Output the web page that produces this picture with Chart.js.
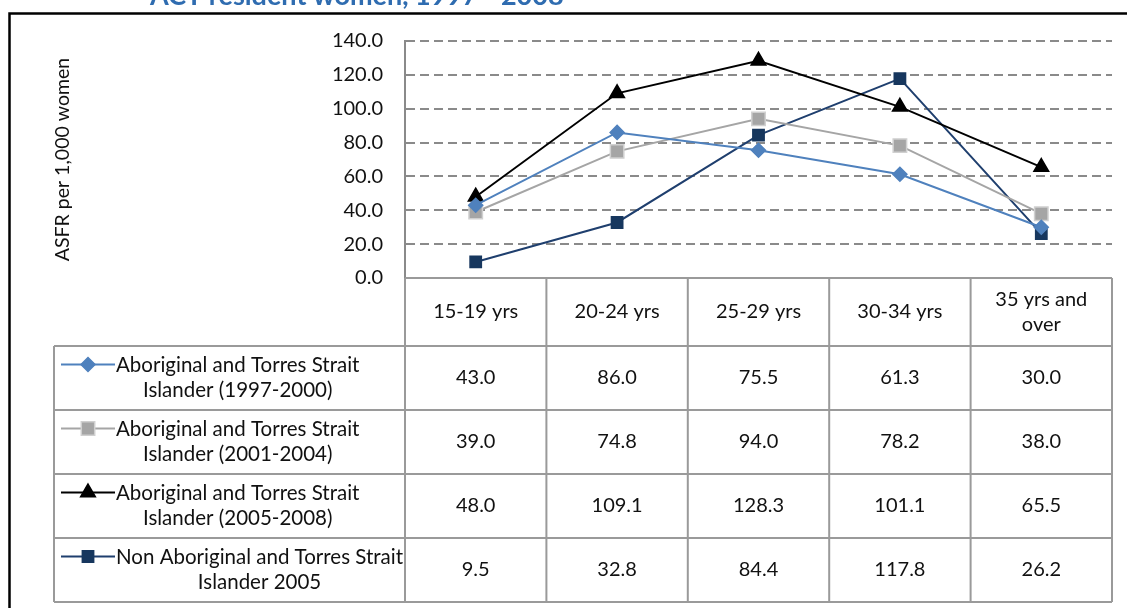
<!DOCTYPE html>
<html>
<head>
<meta charset="utf-8">
<script src="https://cdn.jsdelivr.net/npm/chart.js@4.4.0/dist/chart.umd.min.js"></script>
<style>
  html, body { margin: 0; padding: 0; background: #fff; }
  #wrap { width: 1127px; height: 608px; position: relative; }
</style>
</head>
<body>
<div id="wrap"><canvas id="asfrChart" width="1127" height="608"></canvas></div>
<script>
// age groups (multi-line where the header wraps)
const ageGroups = [['15-19 yrs'], ['20-24 yrs'], ['25-29 yrs'], ['30-34 yrs'], ['35 yrs and', 'over']];
const yTicks = [0, 20, 40, 60, 80, 100, 120, 140];

const atsi9700 = [43.0, 86.0, 75.5, 61.3, 30.0];
const atsi0104 = [39.0, 74.8, 94.0, 78.2, 38.0];
const atsi0508 = [48.0, 109.1, 128.3, 101.1, 65.5];
const nonAtsi05 = [9.5, 32.8, 84.4, 117.8, 26.2];

const seriesNames = [
    ['Aboriginal and Torres Strait', 'Islander (1997-2000)'],
    ['Aboriginal and Torres Strait', 'Islander (2001-2004)'],
    ['Aboriginal and Torres Strait', 'Islander (2005-2008)'],
    ['Non Aboriginal and Torres Strait', 'Islander 2005']
];

const FONT = 'Lato, "Open Sans", sans-serif';
const TEXT = '#111';
const GRID = '#8a8a8a';
const TABLE_LINE = '#9a9a9a';

function makeSet(idx, data, color, style, radius, fill, border) {
    return {
        label: seriesNames[idx].join(' '),
        data: data,
        borderColor: color,
        backgroundColor: fill,
        borderWidth: 2,
        tension: 0,
        pointStyle: style,
        pointRadius: radius,
        pointHoverRadius: radius,
        pointBackgroundColor: fill,
        pointBorderColor: border,
        pointBorderWidth: 1.5
    };
}

// frame and the clipped heading at the very top
const framePlugin = {
    id: 'frame',
    beforeDraw(chart) {
        const ctx = chart.ctx;
        ctx.save();
        ctx.fillStyle = '#fff';
        ctx.fillRect(0, 0, chart.width, chart.height);
        ctx.fillStyle = '#2f6cb0';
        ctx.font = 'bold 27px ' + FONT;
        ctx.textBaseline = 'alphabetic';
        ctx.textAlign = 'left';
        ctx.fillText('ACT resident women, 1997 - 2008', 150, 5);
        ctx.strokeStyle = '#000';
        ctx.lineWidth = 2.5;
        ctx.beginPath();
        ctx.moveTo(9.5, chart.height);
        ctx.lineTo(9.5, 13.5);
        ctx.lineTo(chart.width, 13.5);
        ctx.stroke();
        ctx.restore();
    }
};

// data table under the plot, columns follow the category scale
const dataTable = {
    id: 'dataTable',
    afterDraw(chart) {
        const ctx = chart.ctx;
        const x = chart.scales.x;
        const area = chart.chartArea;
        const step = x.getPixelForValue(1) - x.getPixelForValue(0);
        const edges = ageGroups.map((g, i) => x.getPixelForValue(i) - step / 2);
        edges.push(x.getPixelForValue(ageGroups.length - 1) + step / 2);

        const top = area.bottom;
        const headBottom = top + 68;
        const rowH = 64;
        const legendLeft = 54;
        const rows = chart.data.datasets.length;
        const bottom = headBottom + rows * rowH;

        ctx.save();
        ctx.strokeStyle = TABLE_LINE;
        ctx.lineWidth = 2;
        ctx.beginPath();
        // header row
        ctx.moveTo(edges[0], top);
        ctx.lineTo(edges[edges.length - 1], top);
        edges.forEach(e => {
            ctx.moveTo(e, top);
            ctx.lineTo(e, bottom);
        });
        // body rows
        for (let r = 0; r <= rows; r++) {
            const y = headBottom + r * rowH;
            ctx.moveTo(legendLeft, y);
            ctx.lineTo(edges[edges.length - 1], y);
        }
        ctx.moveTo(legendLeft, headBottom);
        ctx.lineTo(legendLeft, bottom);
        ctx.stroke();

        ctx.fillStyle = TEXT;
        ctx.font = '20px ' + FONT;
        ctx.textAlign = 'center';
        ctx.textBaseline = 'middle';
        const lineH = 25;

        ageGroups.forEach((lines, i) => {
            const cx = (edges[i] + edges[i + 1]) / 2;
            const cy = (top + headBottom) / 2;
            lines.forEach((t, k) => {
                ctx.fillText(t, cx, cy + (k - (lines.length - 1) / 2) * lineH);
            });
        });

        chart.data.datasets.forEach((ds, r) => {
            const cy = headBottom + r * rowH + rowH / 2;
            ctx.font = '20px ' + FONT;
            ds.data.forEach((v, i) => {
                ctx.fillStyle = TEXT;
                ctx.fillText(v.toFixed(1), (edges[i] + edges[i + 1]) / 2, cy);
            });

            // legend key + wrapped series name
            const names = seriesNames[r];
            const textLeft = 116;
            ctx.font = '20.5px ' + FONT;
            const blockW = Math.max(...names.map(t => ctx.measureText(t).width));
            names.forEach((t, k) => {
                ctx.fillStyle = TEXT;
                ctx.fillText(t, textLeft + blockW / 2, cy + (k - 0.5) * lineH);
            });
            const ky = cy - lineH / 2 - 1;
            ctx.strokeStyle = ds.borderColor;
            ctx.lineWidth = 2;
            ctx.beginPath();
            ctx.moveTo(61, ky);
            ctx.lineTo(115, ky);
            ctx.stroke();
            ctx.fillStyle = ds.pointBackgroundColor;
            ctx.strokeStyle = ds.pointBorderColor;
            ctx.lineWidth = ds.pointBorderWidth;
            Chart.helpers.drawPoint(ctx, {
                pointStyle: ds.pointStyle,
                radius: ds.pointRadius,
                borderWidth: ds.pointBorderWidth,
                rotation: 0
            }, 88, ky);
        });
        ctx.restore();
    }
};

new Chart(document.getElementById('asfrChart').getContext('2d'), {
    type: 'line',
    data: {
        labels: ageGroups,
        datasets: [
            makeSet(0, atsi9700, '#4f81bd', 'rectRot', 7, '#4f81bd', '#4f81bd'),
            makeSet(1, atsi0104, '#a5a5a5', 'rect', 9.5, '#a5a5a5', '#d0d0d0'),
            makeSet(2, atsi0508, '#000000', 'triangle', 8.5, '#000000', '#000000'),
            makeSet(3, nonAtsi05, '#1f3f6e', 'rect', 8, '#17375e', '#17375e')
        ]
    },
    plugins: [framePlugin, dataTable],
    options: {
        responsive: false,
        animation: false,
        devicePixelRatio: 1,
        layout: { padding: { left: 0, top: 41, right: 15, bottom: 330 } },
        plugins: {
            legend: { display: false },
            tooltip: { enabled: false }
        },
        scales: {
            x: {
                display: false,
                offset: true
            },
            y: {
                min: 0,
                max: 140,
                afterBuildTicks: s => { s.ticks = yTicks.map(v => ({ value: v })); },
                afterFit: s => { s.width = 405; },
                ticks: {
                    padding: 22,
                    color: TEXT,
                    font: { family: FONT, size: 20 },
                    callback: v => Number(v).toFixed(1)
                },
                grid: {
                    drawTicks: false,
                    lineWidth: 2,
                    color: c => c.tick && c.tick.value === 0 ? 'rgba(0,0,0,0)' : GRID
                },
                border: { display: true, color: GRID, width: 2, dash: [9, 5] },
                title: {
                    display: true,
                    text: 'ASFR per 1,000 women',
                    color: TEXT,
                    font: { family: FONT, size: 19.5 },
                    padding: { top: 51, bottom: 0 }
                }
            }
        }
    }
});
</script>
</body>
</html>
